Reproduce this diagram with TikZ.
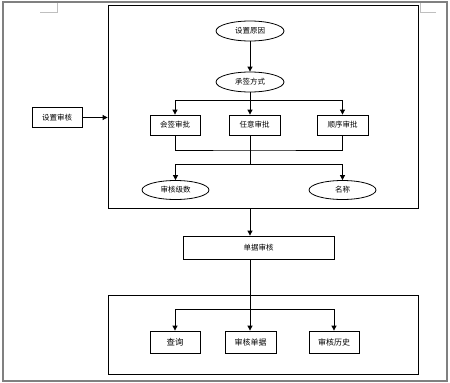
\documentclass[tikz,border=0pt]{standalone}
\usepackage{fontspec}
\newfontfamily\cjk{Noto Sans CJK SC}
\usetikzlibrary{arrows.meta, calc, shapes.geometric}

\begin{document}
\begin{tikzpicture}[x=1pt, y=-1pt, >={Triangle[length=5pt,width=5pt]}, line width=0.8pt,
  every node/.style={font=\cjk\fontsize{7.5}{8}\selectfont},
  proc/.style={draw, minimum width=50pt, minimum height=20pt, inner sep=0pt},
  oval/.style={draw, ellipse, minimum width=68pt, minimum height=20pt, inner sep=0pt},
  frame/.style={draw, minimum width=310pt, inner sep=0pt}]
  \useasboundingbox (0,0) rectangle (450,383);
  \draw[black!50, line width=1.3pt] (3,2) rectangle (447,381);
  \draw[black!25, line width=0.5pt] (40,12) -- (57,12) -- (57,3);
  \draw[black!25, line width=0.5pt] (436,12) -- (420,12) -- (420,3);

  % audit settings
  \node[frame, minimum height=203pt] (cfgframe) at (263,106.5) {};
  \node[oval] (reason) at (250,31) {设置原因};
  \node[oval] (mode) at (250,82) {承签方式};
  \node[proc] (sign) at (175,125) {会签审批};
  \node[proc, minimum width=51pt] (any) at (254.5,125) {任意审批};
  \node[proc, minimum width=51pt] (order) at (342.5,125) {顺序审批};
  \node[oval, minimum width=67pt, minimum height=19pt] (level) at (175.5,190) {审核级数};
  \node[oval, minimum width=67pt, minimum height=19pt] (name) at (342.5,190) {名称};
  \node[proc] (setaudit) at (57,117.5) {设置审核};
  \coordinate (busA) at (250,100);
  \coordinate (busB) at (250,150);
  \coordinate (busC) at (250,164);

  \draw[->] (reason) -- (mode);
  \draw (mode.south) -- (busA);
  \draw (sign.north |- busA) -- (order.north |- busA);
  \draw[->] (sign.north |- busA) -- (sign.north);
  \draw[->] (busA) -- (busA |- any.north);
  \draw[->] (order.north |- busA) -- (order.north);
  \draw (sign.south) |- (busB) -| (order.south);
  \draw (busA |- any.south) -- (busC);
  \draw (level.north |- busC) -- (name.north |- busC);
  \draw[->] (level.north |- busC) -- (level.north);
  \draw[->] (name.north |- busC) -- (name.north);
  \draw[->] (setaudit.east) -- (setaudit.east -| cfgframe.west);

  % bill audit
  \node[proc, minimum width=151pt, minimum height=23pt] (bill) at (258.5,247.5) {单据审核};
  \draw[->] (busA |- cfgframe.south) -- (busA |- bill.north);

  % operations
  \node[frame, minimum height=79pt] (opframe) at (263,334.5) {};
  \node[proc, minimum height=22pt, font=\cjk\fontsize{8.5}{9}\selectfont] (query) at (175,342) {查询};
  \node[proc, minimum width=51pt, minimum height=22pt, font=\cjk\fontsize{8}{9}\selectfont] (check) at (250.5,342) {审核单据};
  \node[proc, minimum height=22pt, font=\cjk\fontsize{8}{9}\selectfont] (hist) at (334,342) {审核历史};
  \coordinate (busD) at (250,309);
  \draw (busA |- bill.south) -- (busD);
  \draw (query.north |- busD) -- (hist.north |- busD);
  \draw[->] (query.north |- busD) -- (query.north);
  \draw[->] (busD) -- (busD |- check.north);
  \draw[->] (hist.north |- busD) -- (hist.north);
\end{tikzpicture}
\end{document}
